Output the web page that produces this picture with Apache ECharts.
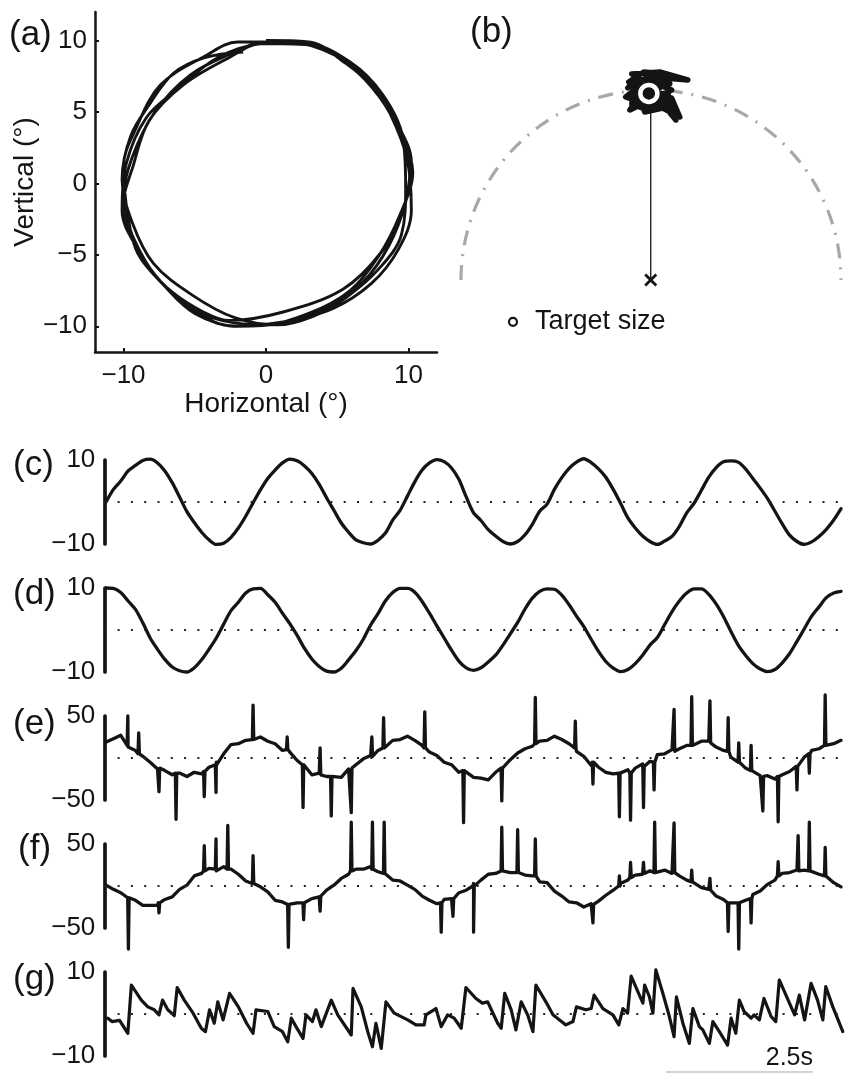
<!DOCTYPE html>
<html>
<head>
<meta charset="utf-8">
<script src="https://cdn.jsdelivr.net/npm/echarts@6/dist/echarts.min.js"></script>
<style>
html,body{margin:0;padding:0;background:#ffffff;}
#main{width:850px;height:1073px;}
</style>
</head>
<body>
<div id="main"></div>
<script>
// ---------------- data ----------------
const timeStep = 0.125; // s between samples of the position/velocity traces

// (c) horizontal eye position (deg)
const horizPos = [
  0, 3.0, 5.0, 7.4, 8.7, 9.9, 10.2, 9.3, 7.4, 4.6, 1.2, -2.3, -4.9, -7.2, -9.0, -10.1, -9.8, -8.4, -6.2, -3.4,
  -0.2, 2.9, 5.6, 7.6, 9.3, 10.2, 9.8, 8.6, 6.8, 4.2, 1.0, -2.0, -5.0, -7.2, -9.0, -9.7, -10.0, -9.1, -7.4, -4.3,
  -2.0, 1.4, 4.8, 7.6, 9.3, 10.1, 9.6, 8.1, 5.4, 1.2, -2.6, -4.4, -6.6, -8.1, -9.4, -10.0, -9.4, -7.8, -5.3, -2.2,
  -0.5, 3.0, 5.8, 8.0, 9.5, 10.3, 9.4, 7.9, 5.9, 3.0, -0.3, -3.8, -6.2, -8.1, -9.4, -10.1, -9.3, -8.2, -5.8, -2.6,
  -0.3, 2.8, 5.9, 8.2, 9.6, 9.8, 9.5, 7.9, 5.6, 3.3, 0.8, -2.2, -5.2, -7.9, -9.4, -10.1, -9.5, -8.2, -6.5, -4.3,
  -1.6
];

// (d) vertical eye position (deg)
const vertPos = [
  10.0, 9.9, 8.9, 6.9, 4.9, 1.7, -1.9, -4.6, -7.0, -8.8, -9.7, -10.0, -9.0, -7.1, -4.6, -1.9, 1.4, 4.6, 6.6, 8.8,
  9.8, 9.9, 8.4, 6.6, 4.0, 1.5, -1.3, -4.4, -6.9, -8.7, -9.8, -10.0, -9.1, -7.1, -4.9, -2.2, 1.2, 3.9, 6.9, 8.9,
  9.9, 9.9, 9.0, 6.8, 4.0, 1.0, -1.9, -4.8, -7.4, -9.0, -9.6, -9.0, -7.6, -6.0, -3.6, -0.9, 1.8, 5.0, 7.6, 9.2,
  9.8, 9.7, 8.3, 6.0, 3.3, 0.8, -2.2, -5.1, -7.5, -9.1, -9.9, -9.4, -8.0, -6.0, -3.6, -1.8, 1.3, 4.4, 6.9, 8.8,
  9.8, 9.8, 8.5, 6.2, 3.2, -0.3, -3.6, -6.0, -8.0, -9.3, -9.9, -9.4, -7.8, -5.6, -2.7, 0.3, 3.3, 5.5, 7.7, 8.8,
  9.2
];

// (e) horizontal eye velocity, slow component (deg/s)
const horizVel = [
  19, 23, 27, 13, 9, 2, -5, -13, -15, -20, -18, -22, -17, -19, -11, -5, 5, 16, 17, 21,
  21, 25, 20, 17, 9, 7, -3, -9, -20, -18, -22, -21, -23, -13, -8, -1, 3, 9, 14, 21,
  22, 26, 21, 15, 7, 3, -5, -8, -17, -17, -23, -24, -26, -17, -11, -2, 6, 11, 14, 20,
  21, 26, 22, 17, 8, 2, -9, -11, -17, -19, -19, -14, -12, -7, -4, 4, 5, 10, 11, 15,
  17, 20, 20, 13, 9, 1, -5, -12, -15, -21, -21, -25, -20, -16, -8, 1, 9, 11, 16, 17,
  21
];

// (f) vertical eye velocity, slow component (deg/s)
const vertVel = [
  1, -4, -8, -15, -17, -23, -23, -23, -16, -13, -4, 1, 12, 15, 21, 18, 23, 20, 14, 6,
  4, -1, -7, -17, -19, -23, -20, -20, -15, -13, -5, 1, 9, 14, 20, 20, 23, 17, 14, 7,
  6, 1, -4, -12, -17, -21, -16, -15, -8, -5, 3, 7, 14, 15, 19, 16, 17, 13, 12, 5,
  4, -6, -12, -19, -20, -25, -21, -18, -11, -5, 3, 7, 13, 14, 18, 15, 19, 15, 12, 7,
  4, -2, -4, -12, -16, -21, -18, -17, -10, -6, 2, 7, 15, 16, 19, 19, 20, 14, 12, 4,
  -1
];

// saccades: [time (s), velocity before/after, peak velocity]
const horizSaccades = [
  [0.37, 15, 50], [0.555, 5, 30], [0.9, -12, -40], [1.19, -18, -73], [1.67, -16, -46],
  [1.87, -8, -41], [2.5, 22, 63], [3.08, 10, 25], [3.35, -8, -59], [3.64, -20, 12],
  [3.83, -22, -69], [4.17, -12, -65], [4.52, 2, 25], [4.72, 12, 48], [5.42, 12, 55],
  [6.08, -15, -77], [6.73, -12, -51], [7.3, 17, 72], [7.98, 12, 44], [8.28, -5, -31],
  [8.73, -18, -70], [8.92, -18, -74], [9.14, -10, -59], [9.32, -5, -38], [9.66, 8, 58],
  [9.96, 15, 73], [10.27, 18, 68], [10.58, 8, 48], [10.76, -5, 18], [10.97, -15, 15],
  [11.17, -22, -63], [11.43, -22, -76], [11.75, -10, -38], [11.96, 5, -18], [12.23, 15, 75]
];
const vertSaccades = [
  [0.38, -14, -75], [0.9, -20, -32], [1.67, 18, 48], [1.87, 20, 56], [2.07, 20, 72],
  [2.5, 3, 36], [3.1, -22, -73], [3.36, -20, -40], [3.64, -12, -30], [4.17, 18, 76],
  [4.53, 20, 76], [4.73, 15, 76], [5.7, -20, -55], [5.9, -15, -36], [6.25, 0, -55],
  [6.73, 18, 70], [7.0, 16, 67], [7.3, 12, 56], [8.28, -22, -44], [8.73, 0, 12],
  [8.92, 10, 28], [9.14, 15, 28], [9.33, 16, 76], [9.66, 16, 75], [9.96, 5, 19],
  [10.27, -5, 9], [10.58, -20, -54], [10.76, -20, -75], [10.97, -15, -44], [11.43, 12, 29],
  [11.77, 18, 60], [11.96, 18, 76], [12.23, 12, 46]
];

// (g) torsional eye position (deg)
const torsionTimes = [0.03,0.1,0.23,0.37,0.43,0.6,0.71,0.82,0.9,0.96,1.05,1.16,1.21,1.33,1.48,1.62,1.69,1.76,1.84,1.9,1.99,2.1,2.25,2.39,2.5,2.55,2.75,2.86,3.0,3.09,3.15,3.23,3.35,3.4,3.51,3.57,3.66,3.83,3.94,4.17,4.2,4.34,4.45,4.53,4.59,4.68,4.76,4.9,5.13,5.27,5.41,5.44,5.61,5.7,5.81,5.92,6.04,6.12,6.29,6.4,6.49,6.66,6.72,6.78,6.89,6.97,7.06,7.17,7.26,7.31,7.48,7.6,7.82,7.94,8.0,8.16,8.25,8.3,8.45,8.62,8.72,8.79,8.87,8.93,9.07,9.13,9.16,9.24,9.3,9.35,9.47,9.58,9.66,9.7,9.81,9.92,9.98,10.09,10.15,10.26,10.32,10.43,10.57,10.63,10.71,10.77,10.85,10.97,11.02,11.11,11.19,11.31,11.39,11.45,11.6,11.71,11.79,11.88,11.99,12.1,12.19,12.24,12.36,12.53];
const torsionVals = [-1.0,-1.8,-1.5,-4.6,6.9,3.3,1.7,1.0,-0.2,3.3,1.0,-0.4,6.3,3.3,0.2,-3.4,-4.2,1.0,-2.2,2.9,-1.4,4.9,1.7,-2.2,-4.6,1.0,0.6,-3.0,-4.2,-6.6,-1.0,-3.0,-5.8,-0.2,-1.8,1.0,-3.0,3.3,-0.2,-5.0,6.1,1.7,-4.2,-7.8,-2.2,-8.2,2.9,0.2,-1.4,-2.6,-2.6,-0.2,1.3,-3.0,-0.2,-1.0,-3.4,6.3,3.7,2.6,2.9,-2.2,-3.4,4.9,1.0,-3.8,2.9,-0.2,-4.2,6.9,2.9,-0.2,-2.6,-1.8,1.7,1.0,1.3,4.5,1.3,-0.2,-2.6,1.3,0.2,9.0,4.5,2.6,6.9,4.1,0.2,10.5,4.9,-0.6,-5.4,4.1,-2.2,-7.0,1.3,-3.0,-3.8,-7.0,-1.8,-4.2,-7.4,-1.0,-4.6,3.3,0.6,-1.0,-0.2,-1.4,3.7,-0.6,-1.8,8.1,3.3,-0.2,4.5,-1.4,7.3,3.3,-1.4,6.5,1.7,-4.2];

// (b) fixation scatter around the target (deg)
const blobX = [-1.0,0.47,1.95,0.74,-0.79,-1.21,-0.05,1.0,-0.58,-1.32,-0.32,0.58,1.1,0.21,-0.89,-1.0,-0.16,0.89,1.26,0.47,-0.68,-1.1,-0.05,1.1,1.53,0.63,-0.32,-0.79,0.47,0.79,-0.37,-1.16,-0.58,0.89,1.32,0.21,-0.58,0.05,-1.1,0.47,-0.47,1.0,-0.16];
const blobY = [10.84,10.95,10.53,10.63,10.53,10.11,10.74,10.32,10.21,9.63,9.26,9.68,10.0,10.37,9.89,9.26,8.95,9.26,8.95,9.47,9.58,8.95,9.47,9.58,8.58,9.05,8.84,10.32,10.1,10.84,10.95,10.42,9.68,9.84,8.42,9.79,10.0,10.53,9.68,9.16,9.16,9.47,10.21];
const targetPos = [-0.1, 9.82];
const startPos = [0, 0];
const reachPath = [[0, 0], [0, 9.0]];
const targetRadius = 10;

// tick labels
const aTicksX = [-10, 0, 10];
const aTicksY = [-10, -5, 0, 5, 10];
const scaleBar = [[9.52, -13.8], [12.02, -13.8]];
const scaleBarText = '2.5s';

// ---------------- chart ----------------
const FONT = '"Liberation Sans", Arial, Helvetica, sans-serif';
const INK = '#141414';
const minus = v => String(v).replace('-', '\u2212');

function withSaccades(vals, sacc) {
  const pts = vals.map((v, i) => [i * timeStep, v]);
  sacc.forEach(s => { pts.push([s[0] - 0.012, s[1]], [s[0], s[2]], [s[0] + 0.012, s[1]]); });
  pts.sort((a, b) => a[0] - b[0]);
  return pts;
}

const lowerTops = [460, 588, 716, 844, 972];
const lowerRanges = [10, 10, 50, 50, 10];
const zeroLine = {
  silent: true, symbol: ['none', 'none'], label: {show: false},
  lineStyle: {type: [2, 11.3], color: '#222', width: 2}, emphasis: {disabled: true},
  data: [{yAxis: 0}]
};

const grids = [
  {left: 95, top: 12, width: 342, height: 340},
  {left: 451.5, top: 14, width: 399, height: 342}
].concat(lowerTops.map(t => ({left: 104.3, top: t, width: 739.7, height: 84})));

const xAxes = [
  {gridIndex: 0, type: 'value', min: -12, max: 12,
   axisLine: {onZero: false, lineStyle: {color: INK, width: 2.5}},
   axisTick: {inside: true, length: 4, customValues: aTicksX, lineStyle: {color: INK, width: 2}},
   axisLabel: {customValues: aTicksX, formatter: minus, fontSize: 26, color: INK, margin: 11, fontFamily: FONT},
   splitLine: {show: false},
   name: 'Horizontal (°)', nameLocation: 'middle', nameGap: 38,
   nameTextStyle: {fontSize: 28, color: INK, fontFamily: FONT}},
  {gridIndex: 1, type: 'value', min: -10.5, max: 10.5, show: false}
].concat(lowerTops.map((t, k) => ({gridIndex: k + 2, type: 'value', min: -0.03, max: 12.55, show: false})));

const yAxes = [
  {gridIndex: 0, type: 'value', min: -11.8, max: 12,
   axisLine: {onZero: false, lineStyle: {color: INK, width: 2.5}},
   axisTick: {inside: true, length: 4, customValues: aTicksY, lineStyle: {color: INK, width: 2}},
   axisLabel: {customValues: aTicksY, formatter: minus, fontSize: 26, color: INK, margin: 8, fontFamily: FONT},
   splitLine: {show: false},
   name: 'Vertical (°)', nameLocation: 'middle', nameGap: 52, nameRotate: 90,
   nameTextStyle: {fontSize: 28, color: INK, fontFamily: FONT}},
  {gridIndex: 1, type: 'value', min: -4, max: 14, show: false}
].concat(lowerRanges.map((r, k) => ({
  gridIndex: k + 2, type: 'value', min: -r, max: r, interval: 2 * r,
  axisLine: {show: true, onZero: false, lineStyle: {color: INK, width: 3.7}},
  axisTick: {show: false},
  axisLabel: {formatter: minus, fontSize: 26, color: INK, margin: 9, fontFamily: FONT},
  splitLine: {show: false}
})));

function traceSeries(k, data, width, smooth) {
  return {
    type: 'line', xAxisIndex: k + 2, yAxisIndex: k + 2, data: data,
    symbol: 'none', smooth: smooth, clip: false, z: 3,
    lineStyle: {color: INK, width: width, join: 'round', cap: 'round'},
    markLine: zeroLine
  };
}

const times = horizPos.map((_, i) => i * timeStep);

const series = [
  // (a) horizontal vs vertical
  {type: 'line', xAxisIndex: 0, yAxisIndex: 0, symbol: 'none', smooth: 0.35,
   data: horizPos.map((h, i) => [h, vertPos[i]]),
   lineStyle: {color: INK, width: 2.9}},
  // (b) target circle carrier (polar axis draws the arc)
  {type: 'scatter', coordinateSystem: 'polar', data: []},
  {type: 'line', xAxisIndex: 1, yAxisIndex: 1, symbol: 'none', data: reachPath,
   lineStyle: {color: INK, width: 1.3}, z: 2},
  {type: 'line', xAxisIndex: 1, yAxisIndex: 1, symbol: 'none', clip: false,
   data: blobX.map((x, i) => [x, blobY[i]]),
   lineStyle: {color: INK, width: 5.5, join: 'round', cap: 'round'}, z: 3},
  {type: 'scatter', xAxisIndex: 1, yAxisIndex: 1, data: [targetPos], symbol: 'circle', symbolSize: 17,
   itemStyle: {color: INK, borderColor: '#ffffff', borderWidth: 4.5, opacity: 1}, z: 5},
  {type: 'scatter', xAxisIndex: 1, yAxisIndex: 1, data: [startPos],
   symbol: 'path://M0,1.5L1.5,0L5,3.5L8.5,0L10,1.5L6.5,5L10,8.5L8.5,10L5,6.5L1.5,10L0,8.5L3.5,5Z',
   symbolSize: 13, itemStyle: {color: INK, opacity: 1}, z: 5},
  {type: 'scatter', name: 'Target size', xAxisIndex: 1, yAxisIndex: 1, data: [[-7.26, -2.2]],
   symbol: 'circle', symbolSize: 8,
   itemStyle: {color: '#ffffff', borderColor: INK, borderWidth: 2.2, opacity: 1},
   label: {show: true, position: 'right', distance: 17, formatter: 'Target size',
           fontSize: 27, color: INK, fontFamily: FONT}, z: 5},
  // (c)-(g)
  traceSeries(0, times.map((t, i) => [t, horizPos[i]]), 3.3, 0.3),
  traceSeries(1, times.map((t, i) => [t, vertPos[i]]), 3.3, 0.3),
  traceSeries(2, withSaccades(horizVel, horizSaccades), 3.3, false),
  traceSeries(3, withSaccades(vertVel, vertSaccades), 3.3, false),
  traceSeries(4, torsionTimes.map((t, i) => [t, torsionVals[i]]), 3.2, false),
  // scale bar
  {type: 'line', xAxisIndex: 6, yAxisIndex: 6, symbol: 'none', clip: false, data: scaleBar,
   lineStyle: {color: '#c4c4c4', width: 1.5}}
];

const letters = [
  ['(a)', 9, 35.5], ['(b)', 470, 32], ['(c)', 13, 465], ['(d)', 13, 594],
  ['(e)', 13, 724], ['(f)', 18, 849], ['(g)', 13, 979]
];
const graphics = letters.map(l => ({
  type: 'text', x: l[1], y: l[2],
  style: {text: l[0], fontSize: 35, fontFamily: FONT, fill: INK, align: 'left', verticalAlign: 'middle'}
}));
graphics.push({type: 'text', x: 813, y: 1058,
  style: {text: scaleBarText, fontSize: 25, fontFamily: FONT, fill: INK, align: 'right', verticalAlign: 'middle'}});

const option = {
  animation: false,
  backgroundColor: '#ffffff',
  textStyle: {fontFamily: FONT},
  grid: grids,
  xAxis: xAxes,
  yAxis: yAxes,
  polar: {center: [651, 280], radius: [0, targetRadius * 19]},
  angleAxis: {type: 'value', min: 0, max: 180, startAngle: 180, endAngle: 0, clockwise: true,
    axisLine: {show: true, lineStyle: {color: '#a8a8a8', width: 3.2, type: [15, 9, 2, 9]}},
    axisTick: {show: false}, axisLabel: {show: false}, splitLine: {show: false}, splitArea: {show: false}},
  radiusAxis: {type: 'value', min: 0, max: targetRadius, show: false,
    axisLine: {show: false}, axisTick: {show: false}, axisLabel: {show: false}, splitLine: {show: false}},
  graphic: graphics,
  series: series
};

const chart = echarts.init(document.getElementById('main'), null, {renderer: 'canvas'});
chart.setOption(option);
</script>
</body>
</html>
